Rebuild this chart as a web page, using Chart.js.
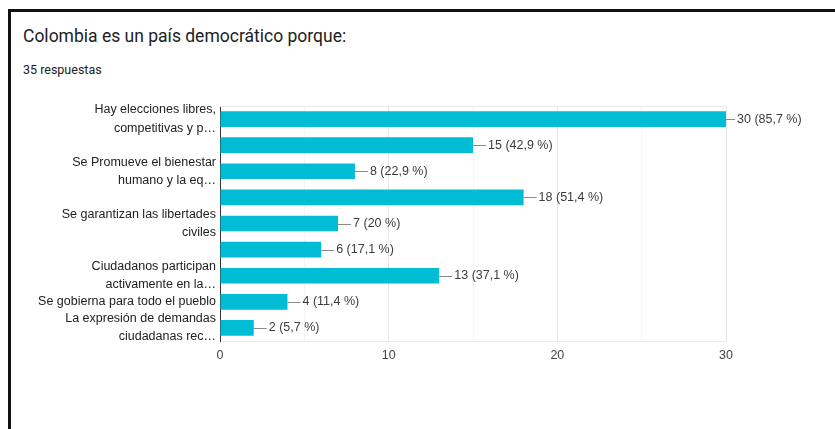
<!DOCTYPE html>
<html>
<head>
<meta charset="utf-8">
<script src="https://cdn.jsdelivr.net/npm/chart.js@4"></script>
<style>
  html, body { margin: 0; padding: 0; background: #fff; }
  body { width: 835px; height: 429px; position: relative; overflow: hidden; }
  #marco { position: absolute; left: 8px; top: 9px; right: -5px; bottom: -5px;
           border-top: 3px solid #111; border-left: 3px solid #111; }
  #titulo { position: absolute; left: 23px; top: 26px; font: 17.5px Roboto, sans-serif; color: #202124; }
  #respuestas { position: absolute; left: 23px; top: 62px; font: 12.5px Roboto, sans-serif; color: #202124; }
  canvas { position: absolute; left: 0; top: 0; }
</style>
</head>
<body>
<div id="marco"></div>
<div id="titulo">Colombia es un país democrático porque:</div>
<div id="respuestas">35 respuestas</div>
<canvas id="grafico" width="835" height="429"></canvas>
<script>
// Datos del gráfico (las etiquetas vacías no se muestran en el original)
const categorias = [
  ["Hay elecciones libres,", "competitivas y p…"],
  "",
  ["Se Promueve el bienestar", "humano y la eq…"],
  "",
  ["Se garantizan las libertades", "civiles"],
  "",
  ["Ciudadanos participan", "activamente en la…"],
  "Se gobierna para todo el pueblo",
  ["La expresión de demandas", "ciudadanas rec…"]
];
const respuestas = [30, 15, 8, 18, 7, 6, 13, 4, 2];
const totalRespuestas = 35;
const ticksX = [0, 10, 20, 30];

const fuente = "'Liberation Sans', Arial, sans-serif";

// Porcentaje con coma decimal, sin ",0"
function porcentaje(v) {
  const p = Math.round(v / totalRespuestas * 1000) / 10;
  return String(p).replace(".", ",");
}

// Etiquetas con línea guía al final de cada barra, y borde superior del área
const etiquetasBarras = {
  id: "etiquetasBarras",
  afterDatasetsDraw(chart) {
    const ctx = chart.ctx;
    const area = chart.chartArea;
    ctx.save();
    ctx.strokeStyle = "#ebebeb";
    ctx.lineWidth = 1;
    ctx.beginPath();
    ctx.moveTo(area.left, area.top + 0.5);
    ctx.lineTo(area.right, area.top + 0.5);
    ctx.stroke();

    const meta = chart.getDatasetMeta(0);
    ctx.font = "12.5px " + fuente;
    ctx.textBaseline = "middle";
    ctx.textAlign = "left";
    meta.data.forEach((bar, i) => {
      const v = respuestas[i];
      const y = Math.round(bar.y) + 0.5;
      const largo = v === Math.max(...respuestas) ? 9 : 13;
      ctx.strokeStyle = "#8a8a8a";
      ctx.beginPath();
      ctx.moveTo(bar.x, y);
      ctx.lineTo(bar.x + largo, y);
      ctx.stroke();
      ctx.fillStyle = "#3c3c3c";
      ctx.fillText(v + " (" + porcentaje(v) + " %)", bar.x + largo + 2, bar.y);
    });
    ctx.restore();
  }
};

new Chart(document.getElementById("grafico"), {
  type: "bar",
  data: {
    labels: categorias,
    datasets: [{
      data: respuestas,
      backgroundColor: "#00bcd4",
      borderWidth: 0,
      barPercentage: 0.6,
      categoryPercentage: 1
    }]
  },
  options: {
    indexAxis: "y",
    responsive: false,
    animation: false,
    layout: { padding: { top: 106, right: 109, bottom: 59, left: 10 } },
    plugins: {
      legend: { display: false },
      tooltip: { enabled: false }
    },
    scales: {
      x: {
        min: 0,
        max: 30,
        ticks: {
          stepSize: 5,
          padding: 7,
          color: "#444",
          font: { family: fuente, size: 12.5 },
          callback: (v) => (ticksX.includes(v) ? v : "")
        },
        grid: {
          drawTicks: false,
          color: (c) => (c.tick && c.tick.value % 10 === 0 ? "#e6e6e6" : "#f4f4f4")
        },
        border: { display: true, color: "#ebebeb" }
      },
      y: {
        afterFit(scale) { scale.width = 210; },
        ticks: {
          padding: 4,
          color: "#222",
          font: { family: fuente, size: 12.5, lineHeight: 1.45 },
          autoSkip: false
        },
        grid: { display: false, drawTicks: false },
        border: { display: true, color: "#333", width: 1 }
      }
    }
  },
  plugins: [etiquetasBarras]
});
</script>
</body>
</html>
